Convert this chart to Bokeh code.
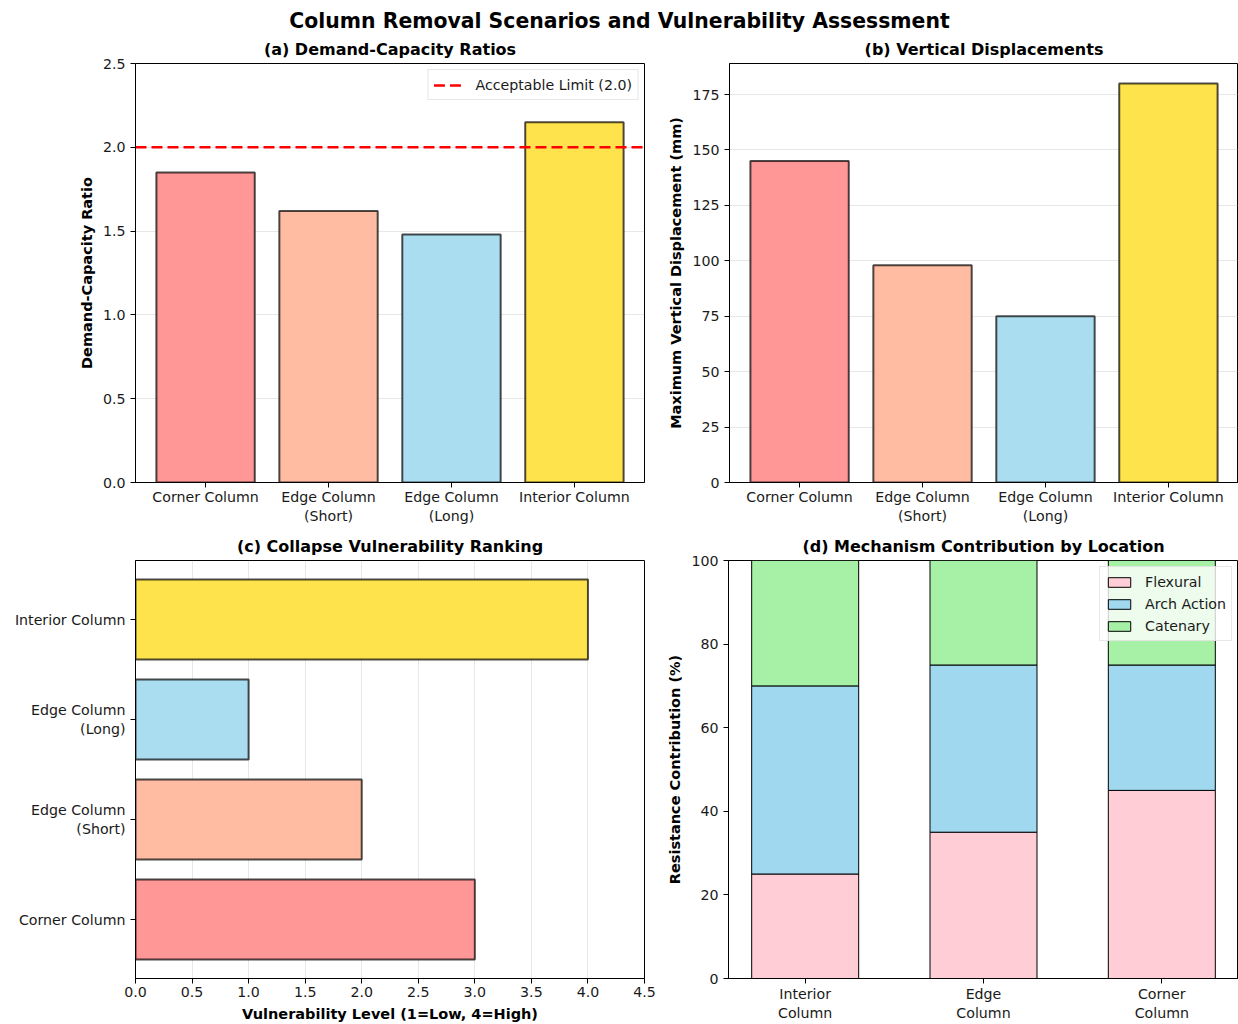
from bokeh.plotting import figure
from bokeh.models import Range1d, FixedTicker, Legend, LegendItem
from bokeh.layouts import column, row
from bokeh.core.properties import value
from bokeh.embed import file_html
from bokeh.resources import INLINE

# ---------------- data ----------------
scenarios = ["Corner Column", "Edge Column\n(Short)", "Edge Column\n(Long)", "Interior Column"]
scenario_colors = ["#FF9797", "#FFBCA2", "#ABDDF1", "#FFE34C"]
dcr_values = [1.85, 1.62, 1.48, 2.15]
acceptable_limit = 2.0
displacement_mm = [145, 98, 75, 180]
vulnerability_level = [3, 2, 1, 4]

locations = ["Interior\nColumn", "Edge\nColumn", "Corner\nColumn"]
flexural = [25, 35, 45]
arch_action = [45, 40, 30]
catenary = [30, 25, 25]
mech_colors = ["#FFCDD5", "#9FD8EF", "#A6F1A6"]

FONT = "DejaVu Sans"
TICK_SIZE = "14.2px"
TEXT_COLOR = "#1a1a1a"


def style(p, xgrid=False, ygrid=False):
    p.outline_line_color = "black"
    p.outline_line_width = 1
    p.background_fill_color = "white"
    p.border_fill_color = "white"
    p.title.text_font = FONT
    p.title.text_font_size = "16px"
    p.title.text_font_style = "bold"
    p.title.align = "center"
    p.title.standoff = 9
    p.title.text_color = "black"
    for ax in p.axis:
        ax.major_tick_out = 5
        ax.major_tick_in = 0
        ax.minor_tick_line_color = None
        ax.axis_line_color = "black"
        ax.major_tick_line_color = "black"
        ax.major_label_text_font = FONT
        ax.major_label_text_font_size = TICK_SIZE
        ax.major_label_text_color = TEXT_COLOR
        ax.major_label_standoff = 3
        ax.axis_label_text_font = FONT
        ax.axis_label_text_font_size = "14.5px"
        ax.axis_label_text_font_style = "bold"
        ax.axis_label_text_color = "black"
        ax.axis_label_standoff = 5
    p.yaxis.major_label_standoff = 5
    p.xgrid.visible = xgrid
    p.ygrid.visible = ygrid
    for g in (p.xgrid, p.ygrid):
        g.grid_line_color = "#b0b0b0"
        g.grid_line_alpha = 0.3
        g.grid_line_width = 1


def legend(items):
    return Legend(items=items, location="top_right", margin=6, padding=5, spacing=3,
                  glyph_width=28, glyph_height=12, label_height=19, label_standoff=12,
                  label_text_font=FONT, label_text_font_size="14.2px",
                  label_text_color=TEXT_COLOR, border_line_color="#d0d0d0",
                  background_fill_alpha=0.8)


pos4 = list(range(len(scenarios)))

# ---------------- title ----------------
TH = 33
tfig = figure(width=1238, height=TH, x_range=Range1d(0, 1), y_range=Range1d(0, 1),
              toolbar_location=None, output_backend="svg", min_border=0)
tfig.axis.visible = False
tfig.grid.visible = False
tfig.outline_line_color = None
tfig.text(x=[0.5], y=[1 - 20 / TH], text=["Column Removal Scenarios and Vulnerability Assessment"],
          text_font=value(FONT), text_font_size="20.4px", text_font_style="bold",
          text_align="center", text_baseline="middle", text_color="black")

# ---------------- (a) ----------------
xr_a = Range1d(-0.57, 3.57)
fa = figure(width=660, height=497, x_range=xr_a, y_range=Range1d(0, 2.5),
            toolbar_location=None, output_backend="svg", title="(a) Demand-Capacity Ratios",
            min_border_left=135, min_border_right=16, min_border_top=30, min_border_bottom=48)
fa.vbar(x=pos4, top=dcr_values, width=0.8, fill_color=scenario_colors,
        line_color="black", line_alpha=0.7, line_width=2)
lim_r = fa.line(x=[xr_a.start, xr_a.end], y=[acceptable_limit, acceptable_limit],
                line_color="red", line_width=2.5, line_dash="11 5")
style(fa, ygrid=True)
fa.xaxis.ticker = FixedTicker(ticks=pos4)
fa.xaxis.major_label_overrides = {i: s for i, s in enumerate(scenarios)}
fa.xaxis.major_label_standoff = 1
fa.yaxis.ticker = FixedTicker(ticks=[0, 0.5, 1.0, 1.5, 2.0, 2.5])
fa.yaxis.major_label_overrides = {0: "0.0", 0.5: "0.5", 1: "1.0", 1.5: "1.5", 2: "2.0", 2.5: "2.5"}
fa.yaxis.axis_label = "Demand-Capacity Ratio"
leg_a = legend([LegendItem(label="Acceptable Limit (2.0)", renderers=[lim_r])])
leg_a.glyph_width = 30
fa.add_layout(leg_a)

# ---------------- (b) ----------------
fb = figure(width=578, height=497, x_range=Range1d(-0.57, 3.57), y_range=Range1d(0, 189),
            toolbar_location=None, output_backend="svg", title="(b) Vertical Displacements",
            min_border_left=69, min_border_right=0, min_border_top=30, min_border_bottom=48)
fb.vbar(x=pos4, top=displacement_mm, width=0.8, fill_color=scenario_colors,
        line_color="black", line_alpha=0.7, line_width=2)
style(fb, ygrid=True)
fb.xaxis.ticker = FixedTicker(ticks=pos4)
fb.xaxis.major_label_overrides = {i: s for i, s in enumerate(scenarios)}
fb.xaxis.major_label_standoff = 1
fb.yaxis.ticker = FixedTicker(ticks=[0, 25, 50, 75, 100, 125, 150, 175])
fb.yaxis.axis_label = "Maximum Vertical Displacement (mm)"

# ---------------- (c) ----------------
fc = figure(width=660, height=494, x_range=Range1d(0, 4.5), y_range=Range1d(-0.59, 3.59),
            toolbar_location=None, output_backend="svg", title="(c) Collapse Vulnerability Ranking",
            min_border_left=135, min_border_right=16, min_border_top=30, min_border_bottom=46)
fc.hbar(y=pos4, right=vulnerability_level, height=0.8, fill_color=scenario_colors,
        line_color="black", line_alpha=0.7, line_width=2)
style(fc, xgrid=True)
fc.yaxis.ticker = FixedTicker(ticks=pos4)
fc.yaxis.major_label_overrides = {i: s for i, s in enumerate(scenarios)}
fc.xaxis.ticker = FixedTicker(ticks=[0, 0.5, 1, 1.5, 2, 2.5, 3, 3.5, 4, 4.5])
fc.xaxis.major_label_overrides = {0: "0.0", 0.5: "0.5", 1: "1.0", 1.5: "1.5", 2: "2.0",
                                  2.5: "2.5", 3: "3.0", 3.5: "3.5", 4: "4.0", 4.5: "4.5"}
fc.xaxis.axis_label = "Vulnerability Level (1=Low, 4=High)"
fc.xaxis.axis_label_standoff = 6

# ---------------- (d) ----------------
pos3 = list(range(len(locations)))
bottom2 = [a + b for a, b in zip(flexural, arch_action)]
top3 = [a + b for a, b in zip(bottom2, catenary)]
fd = figure(width=578, height=494, x_range=Range1d(-0.43, 2.43), y_range=Range1d(0, 100),
            toolbar_location=None, output_backend="svg", title="(d) Mechanism Contribution by Location",
            min_border_left=68, min_border_right=0, min_border_top=30, min_border_bottom=46)
r1 = fd.vbar(x=pos3, bottom=0, top=flexural, width=0.6, fill_color=mech_colors[0],
             line_color="black", line_width=1)
r2 = fd.vbar(x=pos3, bottom=flexural, top=bottom2, width=0.6, fill_color=mech_colors[1],
             line_color="black", line_width=1)
r3 = fd.vbar(x=pos3, bottom=bottom2, top=top3, width=0.6, fill_color=mech_colors[2],
             line_color="black", line_width=1)
style(fd)
fd.xaxis.ticker = FixedTicker(ticks=pos3)
fd.xaxis.major_label_overrides = {i: s for i, s in enumerate(locations)}
fd.xaxis.major_label_standoff = 2
fd.yaxis.ticker = FixedTicker(ticks=[0, 20, 40, 60, 80, 100])
fd.yaxis.axis_label = "Resistance Contribution (%)"
leg_d = legend([LegendItem(label="Flexural", renderers=[r1]),
                LegendItem(label="Arch Action", renderers=[r2]),
                LegendItem(label="Catenary", renderers=[r3])])
fd.add_layout(leg_d)

layout = column(tfig, row(fa, fb), row(fc, fd))
open("out.html", "w").write(file_html(layout, INLINE))
